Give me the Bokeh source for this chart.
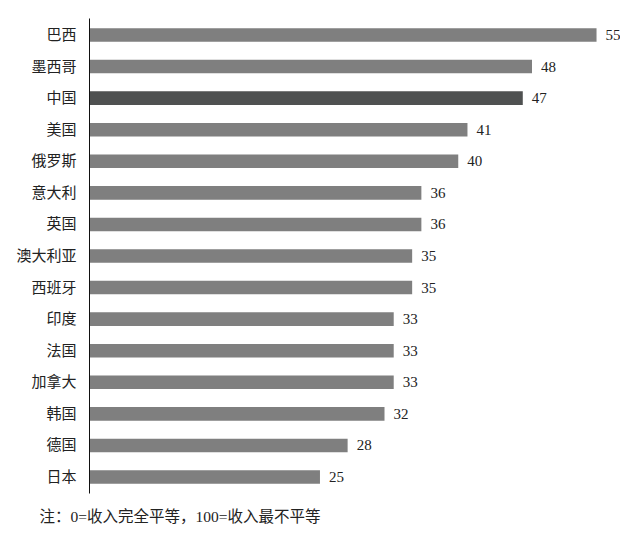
from bokeh.plotting import figure
from bokeh.models import Range1d, FixedTicker, ColumnDataSource, Title
from bokeh.core.properties import value
from bokeh.embed import file_html
from bokeh.resources import INLINE

countries = ["巴西", "墨西哥", "中国", "美国", "俄罗斯", "意大利", "英国", "澳大利亚",
             "西班牙", "印度", "法国", "加拿大", "韩国", "德国", "日本"]
gini = [55, 48, 47, 41, 40, 36, 36, 35, 35, 33, 33, 33, 32, 28, 25]
highlight = "中国"
note = "注：0=收入完全平等，100=收入最不平等"

FONT = "'Liberation Serif', 'Noto Sans CJK SC'"
n = len(countries)
ypos = [n - 1 - i for i in range(n)]
colors = ["#4f5151" if c == highlight else "#7f7f7f" for c in countries]
src = ColumnDataSource(dict(y=ypos, v=gini, c=colors, lab=[str(g) for g in gini]))

p = figure(width=620, height=534, output_backend="svg", toolbar_location=None,
           x_range=Range1d(0, 57.6), y_range=Range1d(-0.52, n - 1 + 0.52),
           min_border_left=89, min_border_right=0, min_border_top=18, min_border_bottom=41)
p.hbar(y="y", right="v", left=0, height=0.43, fill_color="c", line_color=None, source=src)
p.text(x="v", y="y", text="lab", x_offset=9, text_baseline="middle", text_align="left",
       text_font=value(FONT), text_font_size="15px", text_color="#222222", source=src)

p.xaxis.visible = False
p.yaxis.ticker = FixedTicker(ticks=ypos)
p.yaxis.major_label_overrides = {y: c for y, c in zip(ypos, countries)}
p.yaxis.major_label_text_font = FONT
p.yaxis.major_label_text_font_size = "15px"
p.yaxis.major_label_text_color = "#222222"
p.yaxis.major_tick_line_color = None
p.yaxis.minor_tick_line_color = None
p.yaxis.major_tick_out = 0
p.yaxis.major_tick_in = 0
p.yaxis.minor_tick_out = 0
p.yaxis.major_label_standoff = 13
p.yaxis.axis_line_color = "#111111"
p.yaxis.axis_line_width = 1
p.grid.visible = False
p.outline_line_color = None
p.background_fill_color = "white"

spacer = Title(text=" ", text_font_size="3px", standoff=0)
p.add_layout(spacer, "below")
t = Title(text=note, align="left", offset=-50, text_font=FONT, text_font_size="15.5px",
          text_font_style="normal", text_color="#222222", standoff=14)
p.add_layout(t, "below")

open("out.html", "w").write(file_html(p, INLINE))
